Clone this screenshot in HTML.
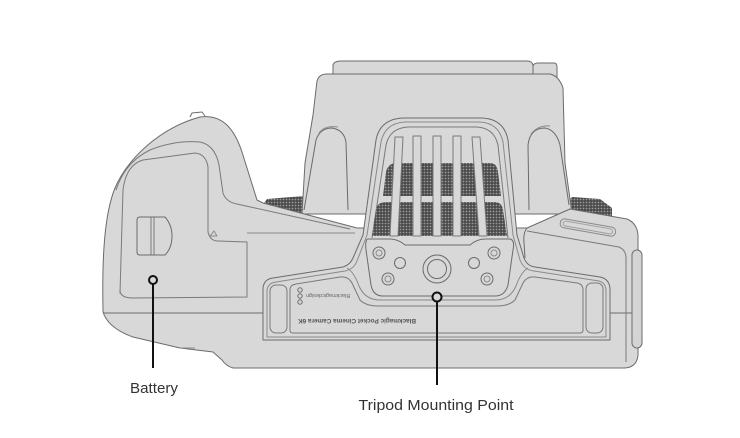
<!DOCTYPE html>
<html><head><meta charset="utf-8"><style>
html,body{margin:0;padding:0;background:#fff;}
svg{display:block;}
text{font-family:"Liberation Sans",sans-serif;}
</style></head><body>
<svg width="740" height="438" viewBox="0 0 740 438" xmlns="http://www.w3.org/2000/svg">
<defs>
<pattern id="mesh" width="3" height="3" patternUnits="userSpaceOnUse">
<rect width="3" height="3" fill="#4a4a4a"/>
<circle cx="1.5" cy="1.5" r="0.9" fill="#9a9a9a"/>
</pattern>
</defs>
<rect width="740" height="438" fill="#fff"/>
<g fill="none" stroke="#6b6b6b" stroke-width="1" stroke-linejoin="round">
<!-- knurls -->
<path d="M 261,207 L 267,199 L 304,196 L 304,216 L 261,216 Z" fill="url(#mesh)" stroke="none"/>
<path d="M 560,212 L 572,197 L 600,199 L 612,208 L 612,222 L 560,222 Z" fill="url(#mesh)" stroke="none"/>
<!-- hump -->
<path d="M 333,74 L 333,65 Q 334,61 341,61 L 527,61 Q 532,61 533,65 L 533,74" fill="#d8d8d8"/>
<path d="M 533,74 L 533,66 Q 534,63 538,63 L 554,63 Q 557,63 557,67 L 557,80" fill="#d8d8d8"/>
<path d="M 302,214 L 305,163 L 313,115 L 317,81 Q 319,74 327,74 L 550,74 Q 559,76 563,88 L 565,163 L 572,214 Z" fill="#d8d8d8"/>
<!-- fins -->
<path d="M 304,210 L 316,140 Q 320,128 332,128 Q 344,130 346,142 L 348,210"/>
<path d="M 319,133 Q 325,125 338,127" stroke="#8a8a8a"/>
<path d="M 529,210 L 528,145 Q 530,128 545,128 Q 556,130 560,145 L 569,205"/>
<path d="M 531,134 Q 538,125 550,126" stroke="#8a8a8a"/>
<!-- body -->
<path d="M 103,310 C 102,260 104,215 115,188 C 128,158 160,128 200,117 C 222,114 234,128 242,152 L 257,200 L 263,203 L 357,228 L 527,228 L 570,209 L 627,219 Q 637,223 638,235 L 638,355 Q 637,367 625,368 L 233,368 Q 226,366 222,360 L 213,352 L 180,348 L 133,337 Q 108,328 103,312 Z" fill="#d8d8d8"/>
<path d="M 190,117 L 192,113 L 202,112 L 205,116" />
<!-- seams -->
<path d="M 103,313 L 263,313" />
<path d="M 610,313 L 632,313" />
<path d="M 180,348 L 195,348" stroke="#8a8a8a"/>
<!-- right block details -->
<path d="M 527,231 L 619,247 Q 626,250 626,258 L 626,362" stroke="#7a7a7a"/>
<path d="M 527,228 Q 523,233 524,242 L 525,258" />
<rect x="560" y="223" width="56" height="9" rx="4" transform="rotate(10 588 227)" stroke="#8a8a8a"/>
<rect x="563" y="225" width="50" height="5" rx="2.5" transform="rotate(10 588 227)" stroke="#a0a0a0"/>
<rect x="632" y="250" width="10" height="98" rx="5" fill="#d4d4d4"/>
<!-- housing -->
<path d="M 263,340 L 263,288 Q 264,279 273,278 L 343,267 Q 350,265 353,258 L 363,235 L 376,140 Q 380,119 403,118 L 482,118 Q 504,119 508,140 L 517,235 L 524,258 Q 527,266 535,267 L 600,277 Q 610,279 610,290 L 610,340 Z" fill="#d8d8d8"/>
<path d="M 267,337 L 267,290 Q 268,283 276,282 L 345,271 Q 354,269 357,261 L 367,235 L 381,142 Q 385,123 405,122 L 480,122 Q 499,123 503,142 L 513,235 L 520,260 Q 524,270 534,271 L 599,281 Q 606,283 606,291 L 606,337 Z" stroke="#8a8a8a"/>
<path d="M 372,238 L 386,145 Q 390,128 408,127 L 477,127 Q 494,128 498,145 L 508,238" stroke="#7a7a7a"/>
<!-- mesh -->
<path d="M 383,196 L 386,172 Q 388,163 397,163 L 490,163 Q 497,163 498,172 L 501,196 Z" fill="url(#mesh)" stroke="none"/>
<path d="M 372,236 L 376,210 Q 377,202 386,202 L 494,202 Q 502,202 503,210 L 507,236 Z" fill="url(#mesh)" stroke="none"/>
<!-- bars -->
<path d="M 395,137 L 403,137 L 398,236 L 390,236 Z" fill="#d8d8d8" stroke="#7a7a7a"/>
<rect x="413" y="136" width="8" height="100" fill="#d8d8d8" stroke="#7a7a7a"/>
<rect x="433" y="136" width="8" height="100" fill="#d8d8d8" stroke="#7a7a7a"/>
<rect x="453" y="136" width="8" height="100" fill="#d8d8d8" stroke="#7a7a7a"/>
<path d="M 472,137 L 480,137 L 487,236 L 479,236 Z" fill="#d8d8d8" stroke="#7a7a7a"/>
<!-- plate -->
<path d="M 368,239 L 390,239 Q 398,239 405,245 L 470,245 Q 477,239 485,239 L 510,239 Q 515,240 513,250 L 508,285 Q 505,296 495,296 L 383,296 Q 373,296 371,285 L 366,250 Q 365,239 368,239 Z" fill="#d8d8d8"/>
<path d="M 347,268 Q 354,272 359,286 Q 365,300 380,300 L 495,300 Q 510,300 516,286 Q 521,272 528,268" stroke="#8a8a8a"/>
<!-- label panel -->
<path d="M 290,330 L 290,290 Q 290,285 296,284 L 340,277 Q 348,276 352,283 L 360,300 Q 366,306 378,306 L 497,306 Q 509,306 515,300 L 523,283 Q 527,276 535,277 L 577,283 Q 583,284 583,290 L 583,330 Q 583,333 580,333 L 293,333 Q 290,333 290,330 Z" stroke="#7a7a7a"/>
<rect x="270" y="285" width="17" height="48" rx="6" stroke="#7a7a7a"/>
<rect x="586" y="283" width="17" height="50" rx="6" stroke="#7a7a7a"/>
<!-- screws -->
<circle cx="437" cy="269" r="14"/>
<circle cx="437" cy="269" r="9.5"/>
<circle cx="379" cy="253" r="6"/><circle cx="379" cy="253" r="3" stroke="#8a8a8a"/>
<circle cx="388" cy="279" r="6"/><circle cx="388" cy="279" r="3" stroke="#8a8a8a"/>
<circle cx="400" cy="263" r="5.5"/>
<circle cx="494" cy="253" r="6"/><circle cx="494" cy="253" r="3" stroke="#8a8a8a"/>
<circle cx="487" cy="279" r="6"/><circle cx="487" cy="279" r="3" stroke="#8a8a8a"/>
<circle cx="474" cy="263" r="5.5"/>
<!-- logo -->
<circle cx="300" cy="290" r="2.2"/><circle cx="300" cy="296" r="2.2"/><circle cx="300" cy="302" r="2.2"/>
<!-- grip details -->
<path d="M 120,293 L 123,190 Q 126,165 143,160 L 195,153 Q 206,154 208,167 L 208,232 Q 210,241 218,241 L 247,242 L 247,297 L 133,298 Q 120,298 120,290 Z" stroke="#7a7a7a"/>
<path d="M 116,190 Q 125,162 150,150 Q 175,140 200,142 Q 215,145 219,165 L 223,193 Q 226,202 237,204 L 350,229" stroke="#7a7a7a"/>
<path d="M 247,233 L 355,233" stroke="#8a8a8a"/>
<path d="M 210,236 L 214,231 L 217,236 Z" stroke="#8a8a8a"/>
<path d="M 140,217 L 165,217 Q 172,225 172,236 Q 172,248 165,255 L 140,255 Q 137,255 137,252 L 137,220 Q 137,217 140,217 Z" stroke="#6b6b6b"/>
<path d="M 151,217 L 151,255 M 154,217 L 154,255" stroke="#7a7a7a"/>
</g>
<!-- panel text -->
<text x="357" y="323" transform="rotate(180 357 321)" font-size="6.5" font-weight="bold" fill="#555" text-anchor="middle" textLength="118" lengthAdjust="spacingAndGlyphs">Blackmagic Pocket Cinema Camera 6K</text>
<text x="328" y="298" transform="rotate(180 328 296)" font-size="5.5" fill="#666" text-anchor="middle" textLength="44" lengthAdjust="spacingAndGlyphs">Blackmagicdesign</text>
<!-- leaders -->
<g stroke="#111" stroke-width="2" fill="#d8d8d8">
<line x1="153" y1="284" x2="153" y2="368"/>
<circle cx="153" cy="280" r="4"/>
<line x1="437" y1="301" x2="437" y2="385"/>
<circle cx="437" cy="297" r="4.5"/>
</g>
<text x="154" y="393" font-size="15" fill="#333" text-anchor="middle" textLength="48" lengthAdjust="spacingAndGlyphs">Battery</text>
<text x="436" y="410" font-size="15" fill="#333" text-anchor="middle" textLength="155" lengthAdjust="spacingAndGlyphs">Tripod Mounting Point</text>
</svg>
</body></html>
